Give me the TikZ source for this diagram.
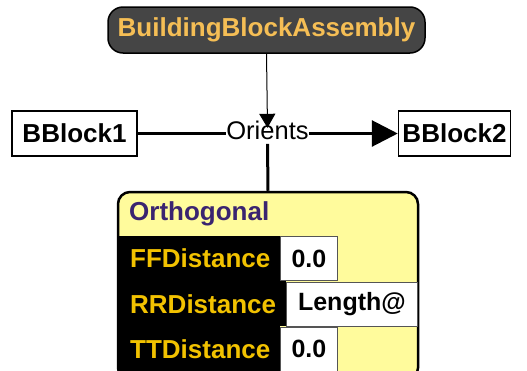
\documentclass[tikz,border=0pt]{standalone}
\usepackage{fontspec}
\setmainfont{Liberation Sans}
\usetikzlibrary{arrows.meta}
\definecolor{topfill}{HTML}{454545}
\definecolor{toptext}{HTML}{F5BE55}
\definecolor{gold}{HTML}{F2C200}
\definecolor{lightyel}{HTML}{FFFB9C}
\definecolor{purp}{HTML}{3A2470}
\definecolor{cellline}{HTML}{555555}
\tikzset{
  basefont/.style={font=\fontsize{25.5}{29}\selectfont},
  boldfont/.style={font=\fontsize{26}{30}\selectfont\bfseries},
  valfont/.style={font=\fontsize{25}{29}\selectfont\bfseries},
  toppill/.style={boldfont, draw=black, line width=1.5pt, fill=topfill, rounded corners=15pt,
    minimum width=317pt, minimum height=46pt, text=toptext, inner sep=0pt},
  blockbox/.style={boldfont, draw=black, line width=1.5pt, fill=white, minimum height=45pt, inner sep=0pt},
  orthbox/.style={draw=black, line width=2.5pt, fill=lightyel, rounded corners=12pt,
    minimum width=300pt, minimum height=188pt, inner sep=0pt},
  labcell/.style={boldfont, fill=black, text=gold, anchor=north west, minimum height=45pt,
    inner xsep=12pt, inner ysep=0pt, align=left},
  valcell/.style={valfont, fill=white, draw=cellline, line width=0.8pt, anchor=north west,
    minimum height=44pt, inner sep=0pt, text=black},
  thinarrow/.style={line width=1pt, -{Triangle[width=16pt,length=14pt]}},
  thickline/.style={line width=3pt},
  thickarrow/.style={line width=3pt, -{Triangle[width=26pt,length=26pt]}},
}
\begin{document}
\begin{tikzpicture}[x=1pt,y=-1pt]
\clip (0,0) rectangle (527,370);
\fill[white] (0,0) rectangle (527,370);
% top node
\node[toppill] (bba) at (266.5,30) {BuildingBlockAssembly};
% blocks
\node[blockbox, minimum width=125pt] (b1) at (74.5,133.5) {BBlock1};
\node[blockbox, minimum width=112pt] (b2) at (454.5,133.5) {BBlock2};
% relation label
\node[basefont, inner sep=0pt, anchor=base] (or) at (267.5,139.5) {Orients};
% orthogonal box
\node[orthbox] (orth) at (268,286) {};
\node[boldfont, text=purp, anchor=west, inner sep=0pt] (orthlbl) at (129,214) {Orthogonal};
% rows
\node[labcell, minimum width=162pt, text width=138pt] (ffl) at (118,236) {FFDistance};
\node[labcell, minimum width=168pt, text width=144pt] (rrl) at (118,281) {RRDistance};
\node[labcell, minimum width=162pt, text width=138pt] (ttl) at (118,326) {TTDistance};
\node[valcell, minimum width=57pt] (ffv) at (280,236) {0.0};
\node[valcell, minimum width=131pt] (rrv) at (286,281.5) {Length@};
\node[valcell, minimum width=57pt] (ttv) at (280,326.5) {0.0};
% connectors
\draw[thinarrow] (bba.south) -- ([yshift=-7pt]or.north);
\draw[thickline] (b1.east) -- (b1.east -| or.west);
\draw[thickarrow] (b2.west -| or.east) -- (b2.west);
\draw[thickline] ([yshift=-4pt]or.south) -- (orth.north);
\end{tikzpicture}
\end{document}
